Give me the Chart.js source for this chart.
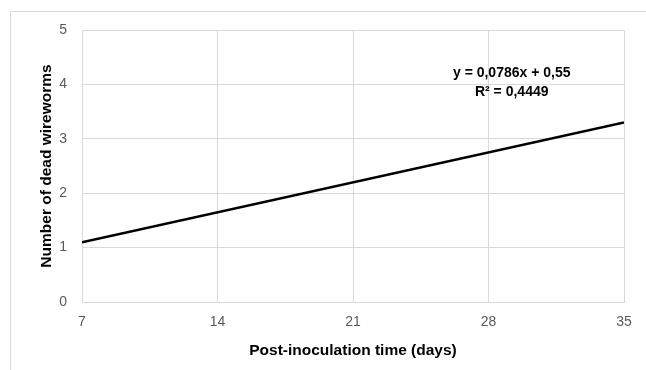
<!DOCTYPE html>
<html>
<head>
<meta charset="utf-8">
<script src="https://cdn.jsdelivr.net/npm/chart.js@4.4.1/dist/chart.umd.min.js"></script>
<style>
  html, body { margin: 0; padding: 0; background: #fff; }
  #wrap { width: 646px; height: 370px; }
</style>
</head>
<body>
<div id="wrap"><canvas id="grafico" width="646" height="370"></canvas></div>
<script>
// Dados: reta de tendência (dias após inoculação x larvas mortas)
const diasTicks = [7, 14, 21, 28, 35];
const diasReta = [7, 35];
const mortosReta = [1.10, 3.30];
const equacao = ["y = 0,0786x + 0,55", "R² = 0,4449"];

const fonte = "'Liberation Sans', Arial, sans-serif";

// moldura cinza e texto da equação
const extras = {
    id: "extras",
    beforeDraw(chart) {
        const c = chart.ctx;
        c.save();
        c.fillStyle = "#fff";
        c.fillRect(0, 0, chart.width, chart.height);
        c.strokeStyle = "#d9d9d9";
        c.lineWidth = 1;
        c.strokeRect(10.5, 11.5, chart.width + 20, chart.height + 20);
        c.restore();
    },
    afterDatasetsDraw(chart) {
        const c = chart.ctx;
        const x = chart.scales.x.getPixelForValue(29.2);
        c.save();
        c.fillStyle = "#000";
        c.font = "bold 14px " + fonte;
        c.textAlign = "center";
        c.textBaseline = "middle";
        c.fillText(equacao[0], x, chart.scales.y.getPixelForValue(4.21));
        c.fillText(equacao[1], x, chart.scales.y.getPixelForValue(3.86));
        c.restore();
    }
};

const ctx = document.getElementById("grafico").getContext("2d");

new Chart(ctx, {
    type: "scatter",
    data: {
        datasets: [
            {
                label: "Linear",
                data: diasReta.map((d, i) => ({ x: d, y: mortosReta[i] })),
                showLine: true,
                borderColor: "#000",
                borderWidth: 2.5,
                pointRadius: 0,
                fill: false
            }
        ]
    },
    options: {
        responsive: false,
        animation: false,
        layout: { padding: { left: 8, top: 30, right: 22, bottom: 6 } },
        plugins: {
            legend: { display: false },
            tooltip: { enabled: false }
        },
        scales: {
            x: {
                type: "linear",
                min: 7,
                max: 35,
                afterBuildTicks: (s) => { s.ticks = diasTicks.map(v => ({ value: v })); },
                grid: { color: "#d9d9d9", drawTicks: false },
                border: { color: "#d9d9d9" },
                ticks: { color: "#595959", font: { family: fonte, size: 14 }, padding: 12 },
                title: {
                    display: true,
                    text: "Post-inoculation time (days)",
                    color: "#000",
                    font: { family: fonte, size: 15.5, weight: "bold" },
                    padding: { top: 8 }
                },
                afterFit: (s) => { s.height = 62; }
            },
            y: {
                min: 0,
                max: 5,
                ticks: { stepSize: 1, color: "#595959", font: { family: fonte, size: 14 }, padding: 15 },
                grid: { color: "#d9d9d9", drawTicks: false },
                border: { color: "#d9d9d9" },
                title: {
                    display: true,
                    text: "Number of dead wireworms",
                    color: "#000",
                    font: { family: fonte, size: 15.5, weight: "bold" },
                    padding: { top: 29, bottom: 0 }
                },
                afterFit: (s) => { s.width = 74; }
            }
        }
    },
    plugins: [extras]
});
</script>
</body>
</html>
